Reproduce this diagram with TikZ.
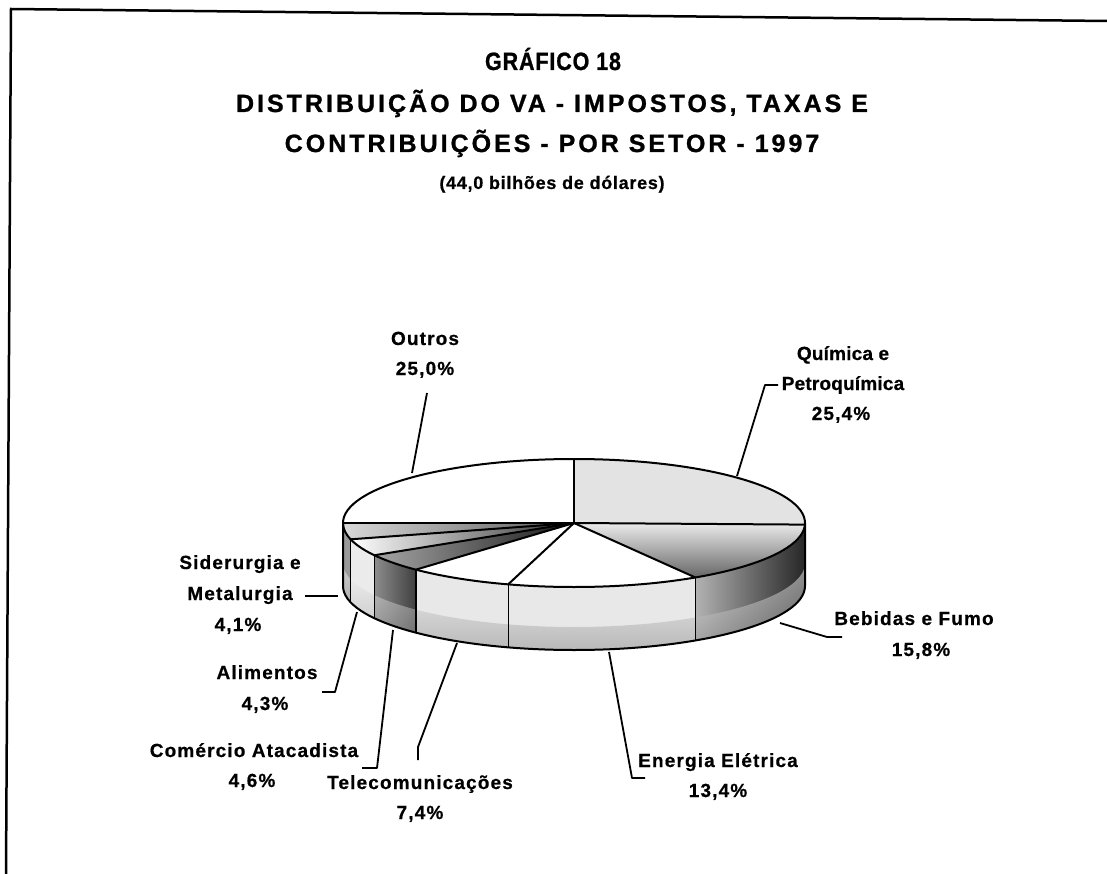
\documentclass[tikz,border=0pt]{standalone}
\usepackage{fontspec}
\setmainfont{Liberation Sans}
\newfontfamily\ttlff[LetterSpace=12,FakeBold=1]{Liberation Sans}
\newfontfamily\ttlaff[LetterSpace=4,FakeBold=1]{Liberation Sans}
\newfontfamily\subff[LetterSpace=4,FakeBold=0.6]{Liberation Sans}
\newfontfamily\labff[LetterSpace=6,FakeBold=0.6]{Liberation Sans}
\newfontfamily\labnff[LetterSpace=1,FakeBold=0.6]{Liberation Sans}
\usetikzlibrary{calc}
\newcommand\pieside[3]{\path[#3] ($(C)+(#1:231 and 64)$) arc[start angle=#1,end angle=#2,x radius=231,y radius=64] -- ++(0,63) arc[start angle=#2,end angle=#1,x radius=231,y radius=64] -- cycle;}
\newcommand\pietop[3]{\path[#3] (C) -- ($(C)+(#1:231 and 64)$) arc[start angle=#1,end angle=#2,x radius=231,y radius=64] -- cycle;}
\tikzset{
  ttl/.style={font={\ttlff\bfseries\fontsize{25}{30}\selectfont}, anchor=base, inner sep=0},
  ttla/.style={font={\ttlaff\bfseries\fontsize{25}{30}\selectfont}, anchor=base, inner sep=0, xscale=0.86},
  subttl/.style={font={\subff\bfseries\fontsize{18}{22}\selectfont}, anchor=base, inner sep=0},
  lab/.style={font={\labff\bfseries\fontsize{19}{23}\selectfont}, anchor=base, inner sep=0},
  labn/.style={font={\labnff\bfseries\fontsize{19}{23}\selectfont}, anchor=base, inner sep=0},
  leader/.style={line width=1.8pt, line join=round},
  edge/.style={line width=2pt, line join=round},
  thinedge/.style={line width=1.3pt},
}
\begin{document}
\begin{tikzpicture}[x=1pt,y=-1pt]
\useasboundingbox (0,0) rectangle (1107,874);
\fill[white] (0,0) rectangle (1107,874);
% frame
\coordinate (fbl) at (6,874);
\coordinate (ftl) at (11,9);
\coordinate (ftr) at (1107,21);
\draw[line width=2.5pt, line join=miter] (fbl) -- (ftl) -- (ftr);
% titles
\node[ttla] (t1) at (553,70) {GRÁFICO 18};
\node[ttl] (t2) at (552,112) {DISTRIBUIÇÃO DO VA - IMPOSTOS, TAXAS E};
\node[ttl] (t3) at (552,152) {CONTRIBUIÇÕES - POR SETOR - 1997};
\node[subttl] (t4) at (552,189) {(44,0 bilhões de dólares)};
% pie
\coordinate (C) at (574,523);
% side walls
\pieside{0}{1.44}{fill=black!60}
\pieside{1.44}{58.32}{left color=black!30, middle color=white, right color=black!85}
\pieside{58.32}{106.56}{fill=black!9}
\pieside{106.56}{133.2}{fill=black!9}
\pieside{133.2}{149.76}{left color=black!45, middle color=white, right color=black!75}
\pieside{149.76}{165.24}{fill=black!8}
\pieside{165.24}{180}{fill=black!40}
% darker bottom band on side walls
\path[top color=black!0, bottom color=black!45, opacity=0.5] ($(C)+(0:231 and 64)+(0,40)$) arc[start angle=0,end angle=180,x radius=231,y radius=64] -- ++(0,23) arc[start angle=180,end angle=0,x radius=231,y radius=64] -- cycle;
% top faces
\pietop{-90}{1.44}{fill=black!11}
\pietop{1.44}{58.32}{top color=black!8, middle color=white, bottom color=black!60}
\pietop{58.32}{106.56}{fill=white}
\pietop{106.56}{133.2}{fill=white}
\pietop{133.2}{149.76}{left color=black!35, middle color=black!15, right color=black!90}
\pietop{149.76}{165.24}{left color=white, right color=black!80}
\pietop{165.24}{180}{left color=black!15, right color=black!65}
\pietop{180}{270}{fill=white}
% outlines
\foreach \a in {-90,1.44,58.32,106.56,133.2,149.76,165.24,180}
  \draw[edge] (C) -- ($(C)+(\a:231 and 64)$);
\foreach \a in {58.32,106.56,133.2,149.76,165.24}
  \draw[thinedge] ($(C)+(\a:231 and 64)$) -- ++(0,63);
\draw[edge] (C) ellipse[x radius=231, y radius=64];
\draw[edge] ($(C)+(0:231 and 64)$) -- ++(0,63) arc[start angle=0,end angle=180,x radius=231,y radius=64] -- ++(0,-63);
% labels
\node[lab] (outros) at (425,345) {Outros};
\node[lab] (outrosp) at (425,375) {25,0\%};
\node[labn] (quim1) at (843,360) {Química e};
\node[labn] (quim2) at (843,390) {Petroquímica};
\node[lab] (quimp) at (841,420) {25,4\%};
\node[lab] (sid1) at (240,569) {Siderurgia e};
\node[lab] (sid2) at (240,600) {Metalurgia};
\node[lab] (sidp) at (238,631) {4,1\%};
\node[lab] (ali) at (267,679) {Alimentos};
\node[lab] (alip) at (265,710) {4,3\%};
\node[lab] (com) at (254,757) {Comércio Atacadista};
\node[lab] (comp) at (252,787) {4,6\%};
\node[lab] (tel) at (420,789) {Telecomunicações};
\node[lab] (telp) at (420,819) {7,4\%};
\node[lab] (ene) at (718,767) {Energia Elétrica};
\node[lab] (enep) at (718,797) {13,4\%};
\node[lab] (beb) at (914,625) {Bebidas e Fumo};
\node[lab] (bebp) at (921,656) {15,8\%};
% leader lines
\coordinate (lo1) at (427,393); \coordinate (lo2) at (412,473);
\draw[leader] (lo1) -- (lo2);
\coordinate (lq1) at (778,385); \coordinate (lq2) at (765,385); \coordinate (lq3) at (737,476);
\draw[leader] (lq1) -- (lq2) -- (lq3);
\coordinate (ls1) at (305,596); \coordinate (ls2) at (338,596);
\draw[leader] (ls1) -- (ls2);
\coordinate (la1) at (322,692); \coordinate (la2) at (335,692); \coordinate (la3) at (357,612);
\draw[leader] (la1) -- (la2) -- (la3);
\coordinate (lc1) at (362,768); \coordinate (lc2) at (377,768); \coordinate (lc3) at (393,630);
\draw[leader] (lc1) -- (lc2) -- (lc3);
\coordinate (lt1) at (418,760); \coordinate (lt2) at (418,747); \coordinate (lt3) at (457,643);
\draw[leader] (lt1) -- (lt2) -- (lt3);
\coordinate (le1) at (645,778); \coordinate (le2) at (632,778); \coordinate (le3) at (609,652);
\draw[leader] (le1) -- (le2) -- (le3);
\coordinate (lb1) at (842,637); \coordinate (lb2) at (827,637); \coordinate (lb3) at (780,623);
\draw[leader] (lb1) -- (lb2) -- (lb3);
\end{tikzpicture}
\end{document}
